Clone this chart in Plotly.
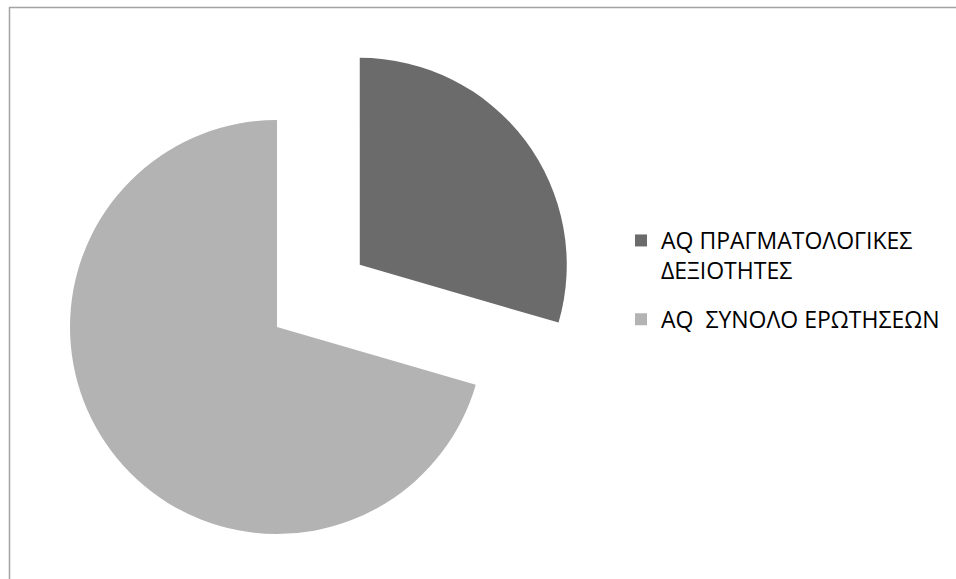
import math
import plotly.graph_objects as go

# Slice data
labels = ["AQ ΠΡΑΓΜΑΤΟΛΟΓΙΚΕΣ ΔΕΞΙΟΤΗΤΕΣ", "AQ  ΣΥΝΟΛΟ ΕΡΩΤΗΣΕΩΝ"]
legend_names = ["AQ ΠΡΑΓΜΑΤΟΛΟΓΙΚΕΣ<br>ΔΕΞΙΟΤΗΤΕΣ", "AQ\u00a0 ΣΥΝΟΛΟ ΕΡΩΤΗΣΕΩΝ"]
values = [29.5, 70.5]
pulls = [0.5, 0.0]
colors = ["#6b6b6b", "#b3b3b3"]

# Figure geometry (pixels)
W, H = 956, 579
CX, CY, R = 277, 327, 207

fig = go.Figure()

# One pie per slice so the exploded slice keeps the full radius:
# the pulled slice is placed by shifting its pie's domain along the slice's mid-angle.
total = sum(values)
start = 0.0
for i, v in enumerate(values):
    mid = (start + v / 2) / total * 2 * math.pi  # clockwise from 12 o'clock
    start += v
    cx = CX + pulls[i] * R * math.sin(mid)
    cy = CY - pulls[i] * R * math.cos(mid)
    slice_colors = [colors[j] if j == i else "rgba(0,0,0,0)" for j in range(len(values))]
    fig.add_trace(go.Pie(
        labels=labels,
        values=values,
        sort=False,
        direction="clockwise",
        rotation=0,
        marker=dict(colors=slice_colors, line=dict(width=0)),
        textinfo="none",
        hoverinfo="label+percent",
        showlegend=False,
        domain=dict(x=[(cx - R) / W, (cx + R) / W],
                    y=[1 - (cy + R) / H, 1 - (cy - R) / H]),
    ))

# Legend entries
for name, c in zip(legend_names, colors):
    fig.add_trace(go.Scatter(
        x=[None], y=[None], mode="markers", name=name, legendgroup=name,
        marker=dict(symbol="square", size=12, color=c), hoverinfo="skip",
    ))

fig.update_layout(
    width=W, height=H,
    margin=dict(l=0, r=0, t=0, b=0),
    paper_bgcolor="white", plot_bgcolor="white",
    xaxis=dict(visible=False), yaxis=dict(visible=False),
    font=dict(family="Open Sans", color="#000000"),
    legend=dict(
        x=621 / W, xanchor="left", y=1 - 219 / H, yanchor="top",
        font=dict(size=23, family="Open Sans", color="#000000"),
        valign="top", tracegroupgap=16, bgcolor="rgba(0,0,0,0)",
    ),
    shapes=[dict(type="rect", xref="paper", yref="paper",
                 x0=9.5 / W, x1=1.05, y0=-0.05, y1=1 - 7.5 / H,
                 line=dict(color="#a3a3a3", width=1.5), fillcolor="rgba(0,0,0,0)")],
)

fig.write_html("out.html")
